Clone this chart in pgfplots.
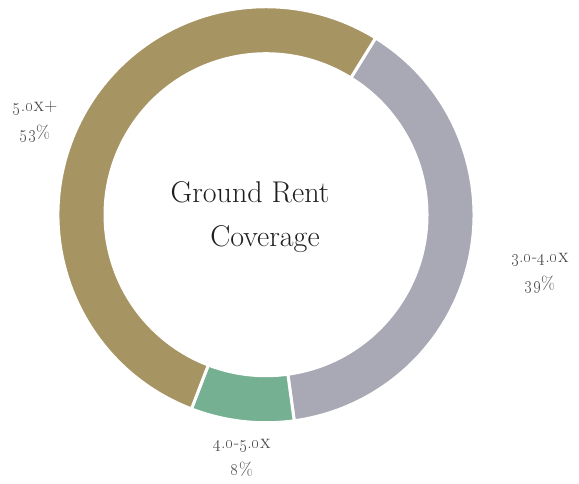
\documentclass[border=0pt]{standalone}
\usepackage{pgfplots}
\pgfplotsset{compat=1.18}
\usepackage{pgfplotstable}
\definecolor{ringtan}{RGB}{167,148,99}
\definecolor{ringgrey}{RGB}{169,169,182}
\definecolor{ringgreen}{RGB}{118,176,146}
\definecolor{labelgrey}{RGB}{75,75,75}
\newcommand{\os}[1]{\oldstylenums{#1}}

% share of each slice, clockwise from the top right boundary
\pgfplotstableread{
value colour
39 ringgrey
8 ringgreen
53 ringtan
}\ringdata

\def\cx{266}\def\cy{269}
\def\ro{208}\def\ri{161}

\begin{document}
\begin{tikzpicture}
\begin{axis}[
    x=1pt, y=1pt,
    xmin=0, xmax=579, ymin=0, ymax=482,
    hide axis,
    clip=false,
]
\path (axis cs:0,0) rectangle (axis cs:579,482);
\def\angstart{58.2}
\pgfplotsforeachungrouped \i in {0,1,2}{
  \pgfplotstablegetelem{\i}{value}\of\ringdata \let\v\pgfplotsretval
  \pgfplotstablegetelem{\i}{colour}\of\ringdata \let\c\pgfplotsretval
  \pgfmathsetmacro\aend{\angstart-3.6*\v}
  \pgfmathsetmacro\aback{\aend+180}
  \pgfmathsetmacro\dr{\ro-\ri}
  \edef\temp{\noexpand\fill[fill=\c, draw=white, line width=3pt]
    (axis cs:\cx,\cy) ++(\angstart:\ro)
    arc[start angle=\angstart, end angle=\aend, radius=\ro]
    -- ++(\aback:\dr)
    arc[start angle=\aend, end angle=\angstart, radius=\ri] -- cycle;}
  \temp
  \global\let\angstart\aend
}
\node[font=\fontsize{30}{35}\selectfont, text=black!88] at (axis cs:250,291) {Ground Rent};
\node[font=\fontsize{30}{35}\selectfont, text=black!88] at (axis cs:265,245) {Coverage};
\node[font=\fontsize{18}{27}\selectfont, text=labelgrey, align=center] at (axis cs:35,362)
  {\os{5}.\os{0}{\scshape x}+\\\os{53}\%};
\node[font=\fontsize{18}{27}\selectfont, text=labelgrey, align=center] at (axis cs:540,211)
  {\os{3}.\os{0}-\os{4}.\os{0}{\scshape x}\\\os{39}\%};
\node[font=\fontsize{18}{27}\selectfont, text=labelgrey, align=center] at (axis cs:242,26)
  {\os{4}.\os{0}-\os{5}.\os{0}{\scshape x}\\\os{8}\%};
\end{axis}
\end{tikzpicture}
\end{document}
